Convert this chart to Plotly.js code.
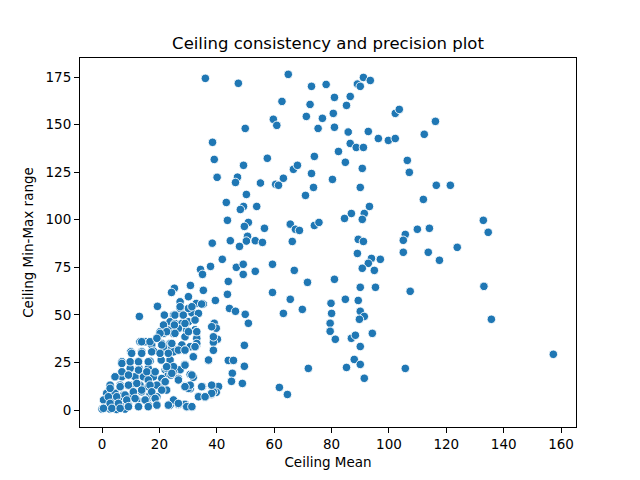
<!DOCTYPE html>
<html>
<head>
<meta charset="utf-8">
<script src="https://cdn.plot.ly/plotly-3.0.1.min.js"></script>
<style>
  body { margin: 0; }
  #chart { width: 640px; height: 480px; }
</style>
</head>
<body>
<div id="chart"></div>
<script>
// [mean, min-max range] pairs
const points = [
  [36.0,174.3],[47.5,171.7],[64.9,176.4],[73.0,170.1],[78.1,171.1],[62.7,162.2],[72.5,160.6],
  [59.7,152.8],[60.9,149.6],[71.2,154.3],[76.8,153.3],[75.3,148.0],[49.9,148.0],[38.5,140.7],
  [39.1,131.7],[40.1,122.3],[49.3,128.6],[57.6,132.3],[47.2,122.4],[46.5,119.6],[55.2,119.3],
  [60.5,118.6],[61.5,118.1],[63.2,121.8],[66.7,126.5],[68.1,128.6],[74.0,133.3],[73.0,124.3],
  [73.7,117.0],[70.9,112.8],[50.3,113.3],[43.3,109.1],[49.3,107.0],[48.2,105.4],[53.9,107.0],
  [43.7,99.7],[51.0,98.6],[49.6,96.5],[56.6,95.5],[65.6,97.7],[67.4,95.0],[68.8,94.4],
  [74.0,97.0],[75.6,98.6],[38.4,87.7],[44.7,89.0],[50.7,91.3],[50.3,88.8],[53.4,89.0],
  [55.9,88.1],[66.3,88.6],
  [91.1,174.8],[93.5,173.2],[89.0,171.3],[90.0,170.1],[81.0,164.3],[86.5,164.8],[85.2,160.1],
  [80.6,155.9],[81.0,148.6],[102.2,155.9],[103.6,158.0],[116.2,151.7],[112.3,144.9],[85.8,146.1],
  [92.8,146.4],[96.3,142.7],[99.8,141.7],[102.2,142.7],[86.5,140.1],[88.6,138.0],[91.1,138.0],
  [82.4,135.9],[84.8,130.2],[90.7,127.0],[106.4,131.2],[107.1,124.9],[80.3,121.2],[90.0,117.0],
  [116.5,118.1],[121.4,118.1],[112.0,110.7],[93.2,107.0],[86.9,103.3],[84.5,100.7],[91.4,103.3],
  [90.7,100.2],[132.9,99.7],[134.6,93.4],[105.7,92.3],[105.0,89.2],[109.9,95.0],[114.1,95.5],
  [89.3,89.7],[91.1,88.6],
  [105.0,82.9],[89.0,82.3],[93.9,79.7],[92.8,77.1],[97.0,79.2],[90.7,74.5],[94.9,73.4],
  [113.7,82.9],[117.6,78.7],[123.8,85.5],[81.0,68.7],[90.0,64.5],[95.3,64.5],[107.4,62.4],
  [133.1,65.0],[135.7,47.7],[157.3,29.3],[84.8,58.2],[89.3,57.6],[79.8,56.1],[80.0,50.8],
  [90.0,51.9],[91.4,49.2],[89.7,47.7],[79.5,45.6],[79.5,41.4],[81.3,37.2],[86.9,37.7],
  [88.3,39.3],[94.2,40.3],[90.0,33.4],[87.9,26.6],[85.2,22.4],[90.0,24.0],[91.4,16.7],
  [105.7,21.9],
  [47.9,86.0],[41.9,79.2],[37.8,75.5],[34.3,73.9],[35.0,71.3],[46.8,75.0],[49.2,76.6],
  [49.2,71.3],[53.4,72.9],[59.4,76.6],[67.0,73.4],[71.6,67.1],[44.0,67.6],[43.7,60.8],
  [59.4,61.8],[65.6,58.2],[69.8,52.9],[63.2,50.8],[39.5,57.6],[35.3,62.9],[30.8,65.5],
  [25.2,64.0],[24.2,61.8],[19.3,54.5],[13.0,49.2],[44.4,53.4],[46.5,51.9],[49.9,50.3],
  [51.0,45.6],[39.1,45.6],[39.8,43.0],[40.2,37.2],[38.8,35.6],[38.8,31.4],[49.6,34.0],
  [37.1,26.1],[44.0,26.1],[45.8,26.1],[49.6,23.0],[45.4,19.3],[45.1,15.1],[48.9,14.0],
  [71.9,21.9],[61.8,11.9],[64.6,8.2],[35.0,12.4],[38.4,12.4],[40.6,12.4],[33.6,7.2],
  [35.9,6.7],[38.0,8.2],[39.8,9.3],[32.4,42.2],[30.1,41.3],[33.0,34.3],[28.7,23.8],
  [27.2,21.2],[23.7,23.0],[22.0,21.2],[23.1,18.6],[24.9,19.8],[28.9,12.4],[30.7,11.2],
  [21.4,13.3],[23.7,2.8],[26.6,2.8],[29.5,1.6],[31.3,1.6],
  [30.1,59.6],[27.2,56.9],[32.8,56.0],[35.3,55.7],[21.7,49.9],[24.9,49.9],[28.3,49.9],
  [31.3,51.1],[27.2,53.4],[30.1,53.4],[33.6,50.8],[22.0,44.7],[23.7,46.4],[25.4,45.5],
  [27.8,45.5],[30.1,46.4],[32.4,47.3],[23.1,42.0],[26.6,42.9],[29.5,42.0],[33.0,41.2],
  [20.2,41.2],[21.4,40.3],[24.9,40.3],[28.9,38.5],[33.0,37.7],[13.2,35.9],[15.0,35.9],
  [17.3,34.2],[20.8,35.0],[23.7,35.0],[27.8,34.2],[30.7,33.3],[33.0,35.0],
  [23.7,31.5],[26.0,31.5],[28.9,31.5],[32.4,33.3],[28.9,24.0],[31.8,28.0],[24.3,19.3],
  [26.6,16.6],[30.7,18.7],[31.8,17.2],[28.9,12.6],[30.1,11.4],[38.8,9.6],[38.2,8.8],
  [24.9,4.4],[26.6,3.0],[28.9,3.0],
  [10.0,30.6],[13.8,30.6],[17.9,31.0],[21.4,33.3],[23.1,29.8],[24.9,30.6],[12.7,25.7],
  [16.7,25.7],[20.6,26.3],[23.7,26.3],[6.9,25.4],[9.8,21.9],[12.9,21.9],[16.1,21.9],
  [22.5,21.9],[24.9,22.8],[4.5,17.5],[6.9,17.5],[9.2,18.4],[11.5,17.5],[14.4,17.5],
  [17.9,17.5],[20.8,16.6],[24.0,18.4],[2.8,13.1],[6.3,13.1],[9.8,13.1],[13.2,13.1],
  [16.1,12.3],[19.1,13.1],[22.0,14.9],[1.6,8.8],[4.5,8.8],[7.4,7.9],[10.3,7.9],
  [13.8,9.6],[16.7,7.9],[19.1,7.0],[22.5,10.5],[0.5,5.3],[3.4,5.3],[5.7,6.1],
  [8.6,4.4],[12.1,5.3],[15.6,5.3],[18.5,6.1],[0.5,0.9],[2.8,2.6],[6.3,2.6],
  [9.2,2.6],[12.7,1.8],[16.1,2.6],[19.1,2.6],[23.7,2.6],[0.0,0.5],[2.8,0.5],
  [5.1,0.3],[8.0,0.5],
  [25.4,49.9],[28.3,49.9],[27.2,54.3],[31.3,54.3],[34.7,55.7],[32.4,47.3],[28.9,45.5],
  [25.2,44.7],[21.4,44.7],[22.5,41.2],[20.2,40.3],[25.4,40.3],[30.1,41.2],[33.0,41.2],
  [38.2,43.8],[13.8,35.9],[16.7,35.9],[19.1,37.7],[20.8,34.2],[24.3,35.0],[26.6,31.5],
  [28.9,31.5],[32.4,33.3],[38.8,38.5],[10.3,29.8],[13.8,29.8],[17.3,30.6],[20.2,29.8],
  [23.1,29.8],[31.8,28.0],[37.1,26.3],[28.9,23.6],[6.9,24.5],[9.8,25.4],[12.7,25.4],
  [16.1,25.4],[22.5,22.8],[24.3,19.3],[4.5,17.5],[6.9,20.1],[9.2,18.4],[12.7,21.0],
  [15.6,20.1],[18.5,20.1],[22.0,14.9],[26.6,15.8],[31.3,18.4],[30.7,13.1],[2.8,11.4],
  [6.3,12.3],[9.2,13.1],[12.1,14.0],[16.1,15.8],[16.7,13.1],[28.9,12.3],[34.7,12.3],
  [38.2,13.1],[2.2,7.0],[5.1,7.0],[8.0,7.9],[10.9,9.6],[13.8,10.5],[17.3,9.6],
  [20.8,10.5],[0.5,0.9],[2.8,3.5],[5.7,3.5],[8.6,5.3],[11.5,6.1],[15.0,5.3],
  [18.5,6.1],[24.9,5.3],[33.6,7.0],[35.9,7.0],[3.4,0.9],[6.3,0.9],[9.2,1.8],
  [12.7,1.8],[16.1,1.8],[19.1,2.6],[23.1,2.6],[26.6,3.5],[29.5,1.8],[31.3,1.8]
];

const ceilingMean = points.map(p => p[0]);
const ceilingRange = points.map(p => p[1]);

const xTicks = [0, 20, 40, 60, 80, 100, 120, 140, 160];
const yTicks = [0, 25, 50, 75, 100, 125, 150, 175];

const font = 'DejaVu Sans, sans-serif';

const data = [{
  x: ceilingMean,
  y: ceilingRange,
  type: 'scatter',
  mode: 'markers',
  marker: {
    color: '#1f77b4',
    size: 8.5,
    line: { color: 'white', width: 0.9 }
  },
  hoverinfo: 'x+y'
}];

const axis = {
  showgrid: false,
  zeroline: false,
  showline: true,
  mirror: true,
  linecolor: 'black',
  linewidth: 1,
  ticks: 'outside',
  ticklen: 5,
  tickwidth: 1,
  tickcolor: 'black',
  tickfont: { family: font, size: 13.5, color: 'black' }
};

const layout = {
  width: 640,
  height: 480,
  margin: { l: 80, r: 64, t: 58, b: 53 },
  paper_bgcolor: 'white',
  plot_bgcolor: 'white',
  showlegend: false,
  font: { family: font, color: 'black' },
  title: {
    text: 'Ceiling consistency and precision plot',
    font: { family: font, size: 16.5, color: 'black' },
    x: 0.5, xref: 'paper',
    y: 1 - 43 / 480, yref: 'container', yanchor: 'middle'
  },
  xaxis: Object.assign({}, axis, {
    range: [-7.7, 165.2],
    tickvals: xTicks,
    title: { text: 'Ceiling Mean', font: { family: font, size: 13.5 }, standoff: 6 }
  }),
  yaxis: Object.assign({}, axis, {
    range: [-8.9, 185],
    tickvals: yTicks,
    title: { text: 'Ceiling Min-Max range', font: { family: font, size: 13.5 }, standoff: 8 }
  })
};

Plotly.newPlot('chart', data, layout, { displayModeBar: false, staticPlot: true });
</script>
</body>
</html>
